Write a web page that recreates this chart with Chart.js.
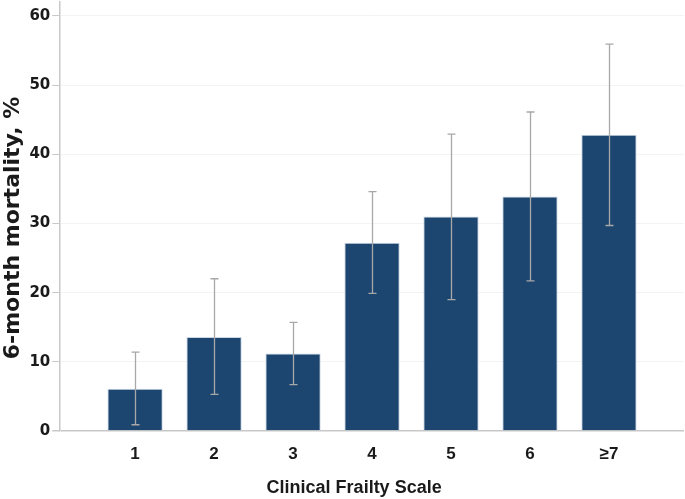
<!DOCTYPE html>
<html>
<head>
<meta charset="utf-8">
<script src="https://cdn.jsdelivr.net/npm/chart.js@4.4.0/dist/chart.umd.min.js"></script>
<style>
  html, body { margin: 0; padding: 0; background: #ffffff; }
  #wrap { width: 685px; height: 499px; position: relative; }
</style>
</head>
<body>
<div id="wrap"><canvas id="barChart"></canvas></div>
<script>
// data
const categories = ['1', '2', '3', '4', '5', '6', '≥7'];
const positions = [1, 2, 3, 4, 5, 6, 7];
const mortality = [6.1, 13.6, 11.2, 27.2, 31.0, 33.9, 42.8];
const ciLow = [0.9, 5.3, 6.7, 19.9, 19.0, 21.7, 29.7];
const ciHigh = [11.4, 22.0, 15.7, 34.6, 42.9, 46.1, 55.9];
const yTicks = [0, 10, 20, 30, 40, 50, 60];

// draws the gray whiskers on top of the bars
const errorBars = {
    id: 'errorBars',
    afterDatasetsDraw(chart) {
        const ctx = chart.ctx;
        const xs = chart.scales.x;
        const ys = chart.scales.y;
        ctx.save();
        ctx.strokeStyle = '#a8a8a8';
        ctx.lineWidth = 1.3;
        positions.forEach((p, i) => {
            const px = Math.round(xs.getPixelForValue(p)) + 0.5;
            const top = ys.getPixelForValue(ciHigh[i]);
            const bot = ys.getPixelForValue(ciLow[i]);
            ctx.beginPath();
            ctx.moveTo(px, top); ctx.lineTo(px, bot);
            ctx.moveTo(px - 4, top); ctx.lineTo(px + 4, top);
            ctx.moveTo(px - 4, bot); ctx.lineTo(px + 4, bot);
            ctx.stroke();
        });
        ctx.restore();
    }
};

const barChart = document.getElementById('barChart');

new Chart(barChart, {
    type: 'bar',
    data: {
        datasets: [{
            data: positions.map((p, i) => ({ x: p, y: mortality[i] })),
            backgroundColor: '#1c466f',
            borderColor: '#c9d5e2',
            borderWidth: 1,
            barPercentage: 1,
            categoryPercentage: 0.7
        }]
    },
    plugins: [errorBars],
    options: {
        responsive: true,
        maintainAspectRatio: false,
        animation: false,
        layout: { padding: { top: 2, right: 1, bottom: 0, left: 0 } },
        scales: {
            x: {
                type: 'linear',
                min: 0.04,
                max: 7.95,
                offset: false,
                afterBuildTicks: axis => { axis.ticks = positions.map(v => ({ value: v })); },
                afterFit: axis => { axis.paddingLeft = 0; axis.paddingRight = 0; },
                grid: { display: false, drawTicks: false },
                border: { display: false },
                ticks: {
                    padding: 13,
                    color: '#1a1a1a',
                    font: { family: '"Liberation Sans", sans-serif', size: 17, weight: 'bold' },
                    callback: function(val) {
                        return categories[val - 1] || '';
                    }
                },
                title: {
                    display: true,
                    text: 'Clinical Frailty Scale       ',  // trailing spaces nudge it left
                    color: '#1a1a1a',
                    font: { family: '"Liberation Sans", sans-serif', size: 18, weight: 'bold' },
                    padding: { top: 0, bottom: 0 }
                }
            },
            y: {
                min: 0,
                max: 62,
                afterBuildTicks: axis => { axis.ticks = yTicks.map(v => ({ value: v })); },
                afterFit: axis => { axis.paddingTop = 0; },
                border: { display: true, color: '#c8c8c8', width: 1.5 },
                grid: {
                    color: ctx => ctx.tick && ctx.tick.value === 0 ? '#c8c8c8' : '#f2f4f4',
                    lineWidth: ctx => ctx.tick && ctx.tick.value === 0 ? 1.5 : 1,
                    tickColor: '#c8c8c8',
                    tickLength: 7
                },
                ticks: {
                    padding: 2,
                    color: '#1a1a1a',
                    font: { family: '"DejaVu Sans", sans-serif', size: 15, weight: 'bold' }
                },
                title: {
                    display: true,
                    text: '6-month mortality, %   ',  // trailing spaces nudge it down
                    color: '#1a1a1a',
                    font: { family: '"DejaVu Sans", sans-serif', size: 22, weight: 'bold' },
                    padding: { top: 0, bottom: 1 }
                }
            }
        },
        plugins: {
            legend: { display: false },
            tooltip: { enabled: false }
        }
    }
});
</script>
</body>
</html>
